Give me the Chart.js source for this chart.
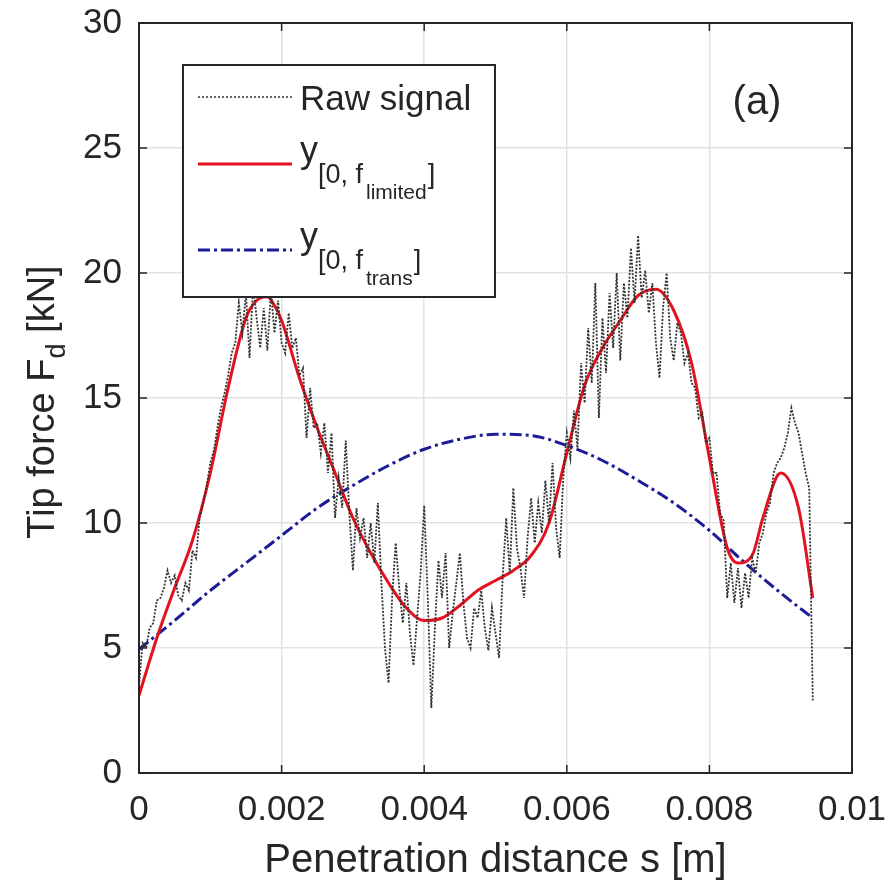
<!DOCTYPE html>
<html><head><meta charset="utf-8">
<script src="https://cdn.jsdelivr.net/npm/chart.js@4/dist/chart.umd.min.js"></script>
<style>html,body{margin:0;padding:0;background:#fff}#wrap{width:892px;height:891px}</style>
</head><body><div id="wrap"><canvas id="c" width="892" height="891"></canvas></div>
<script>
// ---------- data ----------
const rawDistance = [
0,0.00005,0.0001,0.00015,0.0002,0.00025,0.0003,0.00035,0.0004,0.00045,
0.0005,0.00055,0.0006,0.00065,0.0007,0.00075,0.0008,0.00085,0.0009,0.00095,
0.001,0.00105,0.0011,0.00115,0.0012,0.00125,0.0013,0.00135,0.0014,0.00145,
0.0015,0.00155,0.0016,0.00165,0.0017,0.00175,0.0018,0.00185,0.0019,0.00195,
0.002,0.00205,0.0021,0.00215,0.0022,0.00225,0.0023,0.00235,0.0024,0.00245,
0.0025,0.00255,0.0026,0.00265,0.0027,0.00275,0.0028,0.00285,0.0029,0.00295,
0.003,0.00305,0.0031,0.00315,0.0032,0.00325,0.0033,0.00335,0.0034,0.00345,
0.0035,0.00355,0.0036,0.00365,0.0037,0.00375,0.0038,0.00385,0.0039,0.00395,
0.004,0.00405,0.0041,0.00415,0.0042,0.00425,0.0043,0.00435,0.0044,0.00445,
0.0045,0.00455,0.0046,0.00465,0.0047,0.00475,0.0048,0.00485,0.0049,0.00495,
0.005,0.00505,0.0051,0.00515,0.0052,0.00525,0.0053,0.00535,0.0054,0.00545,
0.0055,0.00555,0.0056,0.00565,0.0057,0.00575,0.0058,0.00585,0.0059,0.00595,
0.006,0.00605,0.0061,0.00615,0.0062,0.00625,0.0063,0.00635,0.0064,0.00645,
0.0065,0.00655,0.0066,0.00665,0.0067,0.00675,0.0068,0.00685,0.0069,0.00695,
0.007,0.00705,0.0071,0.00715,0.0072,0.00725,0.0073,0.00735,0.0074,0.00745,
0.0075,0.00755,0.0076,0.00765,0.0077,0.00775,0.0078,0.00785,0.0079,0.00795,
0.008,0.00805,0.0081,0.00815,0.0082,0.00825,0.0083,0.00835,0.0084,0.00845,
0.0085,0.00855,0.0086,0.00865,0.0087,0.00875,0.0088,0.00885,0.0089,0.00895,
0.009,0.00905,0.0091,0.00915,0.0092,0.00925,0.0093,0.00935,0.0094,0.00945
];
const rawForce = [
3.5,5.2,5.0,5.8,6.0,6.9,7.0,7.4,8.1,7.6,
7.9,7.1,6.9,7.6,7.3,8.9,8.6,10.2,10.8,11.5,
12.4,12.9,13.8,14.6,15.2,15.9,16.8,17.2,18.8,17.6,
19.2,16.6,19.5,18.2,17.0,18.6,16.9,19.3,17.6,18.9,
17.2,16.8,18.4,17.0,17.4,15.9,16.2,13.4,15.4,13.8,
14.0,12.8,14.0,12.0,13.6,10.2,11.8,10.6,13.3,10.4,
8.1,10.6,9.4,10.2,8.6,10.0,8.4,10.8,7.6,5.0,
3.6,7.0,9.2,7.4,6.0,7.6,5.6,4.3,6.2,8.0,
10.7,7.0,2.6,5.8,8.5,7.0,8.8,5.0,6.4,7.6,
8.8,6.8,5.4,5.0,6.6,6.2,7.3,5.8,4.9,6.6,
5.6,4.6,7.8,10.2,8.0,11.4,9.0,8.2,7.0,9.4,
11.0,9.2,10.8,9.6,11.7,10.0,12.4,9.8,8.6,11.8,
13.6,12.6,14.5,13.0,16.4,14.8,17.8,15.6,19.6,14.2,
18.2,16.0,19.2,17.0,20.0,16.5,19.6,18.2,21.0,18.8,
21.5,19.0,20.1,18.4,19.6,17.2,15.8,18.6,20.0,17.4,
16.5,18.0,17.6,16.4,16.8,15.6,15.4,14.2,14.4,13.2,
13.4,12.0,12.0,10.4,10.1,7.0,8.4,6.8,8.2,6.6,
8.0,7.0,8.6,8.0,9.2,9.6,10.4,10.8,12.0,12.4,
12.6,13.0,13.6,14.6,14.0,13.6,12.8,12.0,11.4,2.9
];
const limitedDistance = [0,0.00025,0.0005,0.00075,0.001,0.00125,0.0015,0.00165,0.0018,0.0019,0.002,0.00225,
  0.0025,0.00275,0.003,0.00325,0.0035,0.00375,0.004,0.00425,0.0045,0.00475,
  0.005,0.00525,0.0055,0.00575,0.006,0.00625,0.0065,0.00675,0.007,0.00725,
  0.0075,0.00775,0.008,0.00825,0.0084,0.0086,0.00875,0.009,0.00925,0.00945];
const limitedForce = [3.1,5.4,7.4,9.3,12.0,15.4,18.2,18.9,19.05,18.7,18.1,15.8,
  13.8,12.0,10.2,8.8,7.6,6.6,6.1,6.2,6.7,7.3,
  7.7,8.1,8.7,10.0,12.8,15.5,17.0,18.1,19.1,19.35,
  18.5,16.4,12.6,9.0,8.4,8.7,10.2,12.0,10.6,7.0];
const transDistance = [0,0.0005,0.001,0.0015,0.002,0.0025,0.003,0.0035,0.004,0.0045,
  0.005,0.0055,0.006,0.0065,0.007,0.0075,0.008,0.0085,0.009,0.00945];
const transForce = [4.95,6.1,7.3,8.4,9.5,10.6,11.5,12.3,12.95,13.35,
  13.55,13.5,13.1,12.5,11.7,10.8,9.7,8.4,7.2,6.2];
const xTickValues = [0,0.002,0.004,0.006,0.008,0.01];
const yTickValues = [0,5,10,15,20,25,30];
const xTitle = 'Penetration distance s [m]';
const yTitleParts = ['Tip force F', 'd', ' [kN]'];
const legendRaw = 'Raw signal';
const legendSubs = ['limited', 'trans'];
const panelTag = '(a)';

// ---------- build ----------
const pts = (xs, ys) => xs.map((x, i) => ({x, y: ys[i]}));
const FONT = '"Liberation Sans", Arial, sans-serif';
const TXT = '#262626';
const RED = '#e3121f';
const BLUE = '#1c1c96';
const GREY = '#333333';

const deco = {
  id: 'deco',
  afterDatasetsDraw(chart) {
    const ctx = chart.ctx;
    const a = chart.chartArea;
    const xs = chart.scales.x, ys = chart.scales.y;
    ctx.save();
    // frame
    ctx.strokeStyle = TXT; ctx.lineWidth = 2; ctx.setLineDash([]);
    ctx.strokeRect(a.left, a.top, a.right - a.left, a.bottom - a.top);
    // inward ticks
    ctx.lineWidth = 1.5;
    xTickValues.forEach(v => {
      const p = xs.getPixelForValue(v);
      ctx.beginPath(); ctx.moveTo(p, a.bottom); ctx.lineTo(p, a.bottom - 8);
      ctx.moveTo(p, a.top); ctx.lineTo(p, a.top + 8); ctx.stroke();
    });
    yTickValues.forEach(v => {
      const p = ys.getPixelForValue(v);
      ctx.beginPath(); ctx.moveTo(a.left, p); ctx.lineTo(a.left + 8, p);
      ctx.moveTo(a.right, p); ctx.lineTo(a.right - 8, p); ctx.stroke();
    });
    // legend box
    const L = 183, T = 65, W = 312, H = 232;
    ctx.fillStyle = '#fff'; ctx.fillRect(L, T, W, H);
    ctx.strokeStyle = TXT; ctx.lineWidth = 2; ctx.strokeRect(L, T, W, H);
    // samples
    ctx.lineWidth = 1.6; ctx.strokeStyle = GREY; ctx.setLineDash([2, 2]);
    ctx.beginPath(); ctx.moveTo(198, 97); ctx.lineTo(292, 97); ctx.stroke();
    ctx.lineWidth = 3; ctx.strokeStyle = RED; ctx.setLineDash([]);
    ctx.beginPath(); ctx.moveTo(198, 164); ctx.lineTo(292, 164); ctx.stroke();
    ctx.strokeStyle = BLUE; ctx.setLineDash([12, 4, 3, 4]);
    ctx.beginPath(); ctx.moveTo(198, 250); ctx.lineTo(292, 250); ctx.stroke();
    ctx.setLineDash([]);
    // legend text
    ctx.fillStyle = TXT; ctx.textBaseline = 'alphabetic'; ctx.textAlign = 'left';
    ctx.font = '35px ' + FONT;
    ctx.fillText(legendRaw, 300, 110);
    const drawY = (yb, sub) => {
      ctx.font = '36px ' + FONT;
      ctx.fillText('y', 300, yb);
      let x = 300 + ctx.measureText('y').width;
      ctx.font = '27px ' + FONT;
      ctx.fillText('[0, f', x, yb + 21);
      x += ctx.measureText('[0, f').width + 3;
      ctx.font = '21px ' + FONT;
      ctx.fillText(sub, x, yb + 37);
      x += ctx.measureText(sub).width + 1;
      ctx.font = '27px ' + FONT;
      ctx.fillText(']', x, yb + 21);
    };
    drawY(162, legendSubs[0]);
    drawY(248, legendSubs[1]);
    // panel tag
    ctx.font = '40px ' + FONT; ctx.textAlign = 'center';
    ctx.fillText(panelTag, 757, 114);
    // x title
    ctx.font = '40px ' + FONT;
    ctx.fillText(xTitle, (a.left + a.right) / 2, 872);
    // y title
    ctx.translate(54, (a.top + a.bottom) / 2 + 4);
    ctx.rotate(-Math.PI / 2);
    ctx.textAlign = 'left';
    ctx.font = '38px ' + FONT; const w0 = ctx.measureText(yTitleParts[0]).width;
    ctx.font = '27px ' + FONT; const w1 = ctx.measureText(yTitleParts[1]).width;
    ctx.font = '38px ' + FONT; const w2 = ctx.measureText(yTitleParts[2]).width;
    let sx = -(w0 + w1 + w2) / 2;
    ctx.font = '38px ' + FONT; ctx.fillText(yTitleParts[0], sx, 0); sx += w0;
    ctx.font = '27px ' + FONT; ctx.fillText(yTitleParts[1], sx, 11); sx += w1;
    ctx.font = '38px ' + FONT; ctx.fillText(yTitleParts[2], sx, 0);
    ctx.restore();
  }
};

new Chart(document.getElementById('c'), {
  type: 'scatter',
  data: {
    datasets: [
      { label: legendRaw, data: pts(rawDistance, rawForce), showLine: true, borderColor: GREY,
        borderWidth: 1.8, borderDash: [2, 1.5], pointRadius: 0, tension: 0 },
      { label: 'limited', data: pts(limitedDistance, limitedForce), showLine: true, borderColor: RED,
        borderWidth: 3, pointRadius: 0, cubicInterpolationMode: 'monotone' },
      { label: 'trans', data: pts(transDistance, transForce), showLine: true, borderColor: BLUE,
        borderWidth: 3, borderDash: [12, 4, 3, 4], pointRadius: 0, cubicInterpolationMode: 'monotone' }
    ]
  },
  options: {
    responsive: false, animation: false, devicePixelRatio: 1,
    layout: { padding: { top: 23, right: 40, left: 0, bottom: 0 } },
    plugins: { legend: { display: false }, tooltip: { enabled: false } },
    scales: {
      x: {
        type: 'linear', min: 0, max: 0.01,
        afterBuildTicks: s => { s.ticks = xTickValues.map(v => ({ value: v })); },
        afterFit: s => { s.height = 118; s.paddingLeft = 0; s.paddingRight = 0; },
        ticks: { autoSkip: false, maxRotation: 0, padding: 16, color: TXT,
          font: { family: FONT, size: 35 }, callback: v => String(v) },
        grid: { color: '#e2e2e2', lineWidth: 1.5, drawTicks: false },
        border: { display: true, color: TXT, width: 2 }
      },
      y: {
        type: 'linear', min: 0, max: 30,
        afterBuildTicks: s => { s.ticks = yTickValues.map(v => ({ value: v })); },
        afterFit: s => { s.width = 139; s.paddingTop = 0; s.paddingBottom = 0; },
        ticks: { padding: 17, color: TXT, font: { family: FONT, size: 35 }, callback: v => String(v) },
        grid: { color: '#e2e2e2', lineWidth: 1.5, drawTicks: false },
        border: { display: true, color: TXT, width: 2 }
      }
    }
  },
  plugins: [deco]
});
</script>
</body></html>
